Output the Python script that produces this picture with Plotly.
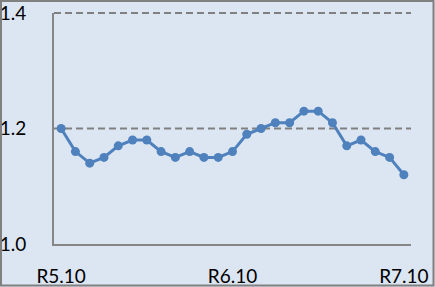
import plotly.graph_objects as go

categories = ["R5.10", "R5.11", "R5.12", "R6.1", "R6.2", "R6.3", "R6.4", "R6.5", "R6.6", "R6.7", "R6.8", "R6.9",
              "R6.10", "R6.11", "R6.12", "R7.1", "R7.2", "R7.3", "R7.4", "R7.5", "R7.6", "R7.7", "R7.8", "R7.9", "R7.10"]
values = [1.20, 1.16, 1.14, 1.15, 1.17, 1.18, 1.18, 1.16, 1.15, 1.16, 1.15, 1.15,
          1.16, 1.19, 1.20, 1.21, 1.21, 1.23, 1.23, 1.21, 1.17, 1.18, 1.16, 1.15, 1.12]
tick_labels = ["R5.10", "R6.10", "R7.10"]
y_ticks = [1.0, 1.2, 1.4]

W, H = 435, 287
L, R, T, B = 54, 24, 13, 43
pw, ph = W - L - R, H - T - B
y_range = [y_ticks[0], y_ticks[-1]]

fig = go.Figure()
fig.add_trace(go.Scatter(
    x=categories, y=values, mode="lines+markers",
    line=dict(color="#4f81bd", width=3),
    marker=dict(color="#4f81bd", size=9),
))

# dashed gridlines (paper-referenced so the top one is not clipped)
for yv in y_ticks[1:]:
    yp = (yv - y_range[0]) / (y_range[1] - y_range[0])
    fig.add_shape(type="line", xref="paper", yref="paper", x0=0, x1=1, y0=yp, y1=yp,
                  line=dict(color="#808080", width=2, dash="7px,4px"), layer="below")

fig.update_layout(
    width=W, height=H,
    margin=dict(l=L, r=R, t=T, b=B, autoexpand=False),
    paper_bgcolor="#dce6f2", plot_bgcolor="rgba(0,0,0,0)",
    showlegend=False,
    font=dict(family="Lato, Calibri, sans-serif", size=19, color="#000000"),
    xaxis=dict(
        type="category", tickmode="array", tickvals=tick_labels, ticktext=tick_labels,
        showgrid=False, zeroline=False, showline=True, linecolor="#868686", linewidth=2,
        ticks="", range=[-0.5, len(categories) - 0.5], ticklabelstandoff=14, automargin=False,
    ),
    yaxis=dict(
        range=y_range, tickvals=y_ticks, tickformat=".1f",
        showgrid=False, zeroline=False, showline=True, linecolor="#868686", linewidth=2,
        ticks="", ticklabelstandoff=22, automargin=False,
    ),
)
fig.add_shape(type="rect", xref="paper", yref="paper",
              x0=(1 - L) / pw, x1=(433.5 - L) / pw,
              y0=(H - B - 285.5) / ph, y1=(H - B - 1) / ph,
              line=dict(color="#808080", width=2))

fig.write_html("out.html")
